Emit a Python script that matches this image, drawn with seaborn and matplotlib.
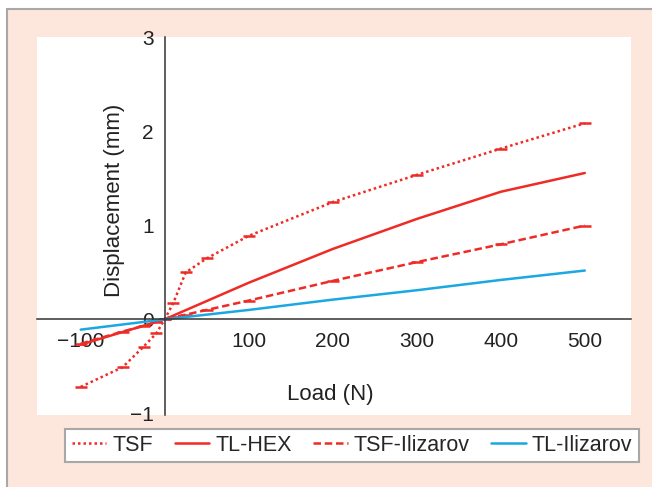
import matplotlib
matplotlib.use("Agg")
import matplotlib.pyplot as plt
from matplotlib.patches import Rectangle
import seaborn as sns

# load values (N) and displacement (mm)
load_fine = [-100, -50, -25, -10, 0, 10, 25, 50, 100, 200, 300, 400, 500]
load_coarse = [-100, 0, 100, 200, 300, 400, 500]

tsf = [-0.72, -0.51, -0.29, -0.15, 0, 0.17, 0.50, 0.65, 0.89, 1.25, 1.54, 1.82, 2.09]
tsf_ilizarov = [-0.26, -0.13, -0.07, -0.03, 0, 0.02, 0.05, 0.10, 0.20, 0.41, 0.61, 0.80, 1.0]
tl_hex = [-0.27, 0, 0.39, 0.75, 1.07, 1.36, 1.56]
tl_ilizarov = [-0.11, 0, 0.10, 0.21, 0.31, 0.42, 0.52]

xticks = [-100, 100, 200, 300, 400, 500]
yticks = [-1, 0, 1, 2, 3]

red = "#ee2b25"
blue = "#1ba8e0"
peach = "#fde6dc"
txt = "#222222"

sns.set_theme(style="white")
plt.rcParams["font.family"] = ["Liberation Sans", "DejaVu Sans"]

fig = plt.figure(figsize=(6.52, 4.87), dpi=100, facecolor="white")
fig.patches.append(Rectangle((7 / 652, -0.1), 1.2, 1 - 9 / 487 + 0.1,
                             transform=fig.transFigure, facecolor=peach,
                             edgecolor="#a8a8a8", linewidth=1.5, zorder=-10))
ax = fig.add_axes([37 / 652, 1 - 415 / 487, 594 / 652, 378 / 487])
ax.set_facecolor("white")

cap = dict(marker="_", markersize=8, markeredgewidth=1.8,
           markeredgecolor=red, markerfacecolor=red)
sns.lineplot(x=load_fine, y=tsf, ax=ax, color=red, linewidth=1.8,
             linestyle=(0, (1, 1.2)), label="TSF", **cap)
sns.lineplot(x=load_coarse, y=tl_hex, ax=ax, color=red, linewidth=1.8,
             label="TL-HEX")
sns.lineplot(x=load_fine, y=tsf_ilizarov, ax=ax, color=red, linewidth=1.8,
             linestyle=(0, (3, 1.5)), label="TSF-Ilizarov", **cap)
sns.lineplot(x=load_coarse, y=tl_ilizarov, ax=ax, color=blue, linewidth=1.8,
             label="TL-Ilizarov")

ax.set_xlim(-152, 555)
ax.set_ylim(-1.02, 3.01)
ax.set_xticks(xticks)
ax.set_yticks(yticks)
ax.set_xticklabels([str(t).replace("-", "\u2212") for t in xticks])
ax.set_yticklabels([str(t).replace("-", "\u2212") for t in yticks])

for side in ["top", "right"]:
    ax.spines[side].set_visible(False)
for side in ["left", "bottom"]:
    ax.spines[side].set_position(("data", 0))
    ax.spines[side].set_color("#333333")
    ax.spines[side].set_linewidth(1.1)
ax.tick_params(axis="both", length=0, labelsize=15, colors=txt)
ax.tick_params(axis="x", pad=9)
ax.tick_params(axis="y", pad=8)

ax.set_xlabel("Load (N)", fontsize=16, color=txt)
ax.set_ylabel("Displacement (mm)", fontsize=16, color=txt)
ax.xaxis.set_label_coords(0.493, 0.082)
ax.yaxis.set_label_coords(0.148, 0.569)

handles, labels = ax.get_legend_handles_labels()
ax.get_legend().remove()
leg = fig.legend(handles, labels, loc="center", ncol=4,
                 bbox_to_anchor=(352 / 652, 1 - 445.5 / 487),
                 fontsize=15.5, frameon=True, fancybox=False, edgecolor="#a8a8a8",
                 facecolor="white", framealpha=1, handlelength=1.6,
                 handletextpad=0.28, columnspacing=1.0, borderpad=0.3)
leg.get_frame().set_linewidth(1.5)
for h in leg.legend_handles:
    h.set_marker("")

fig.savefig("out.png", dpi=100, facecolor=fig.get_facecolor())
